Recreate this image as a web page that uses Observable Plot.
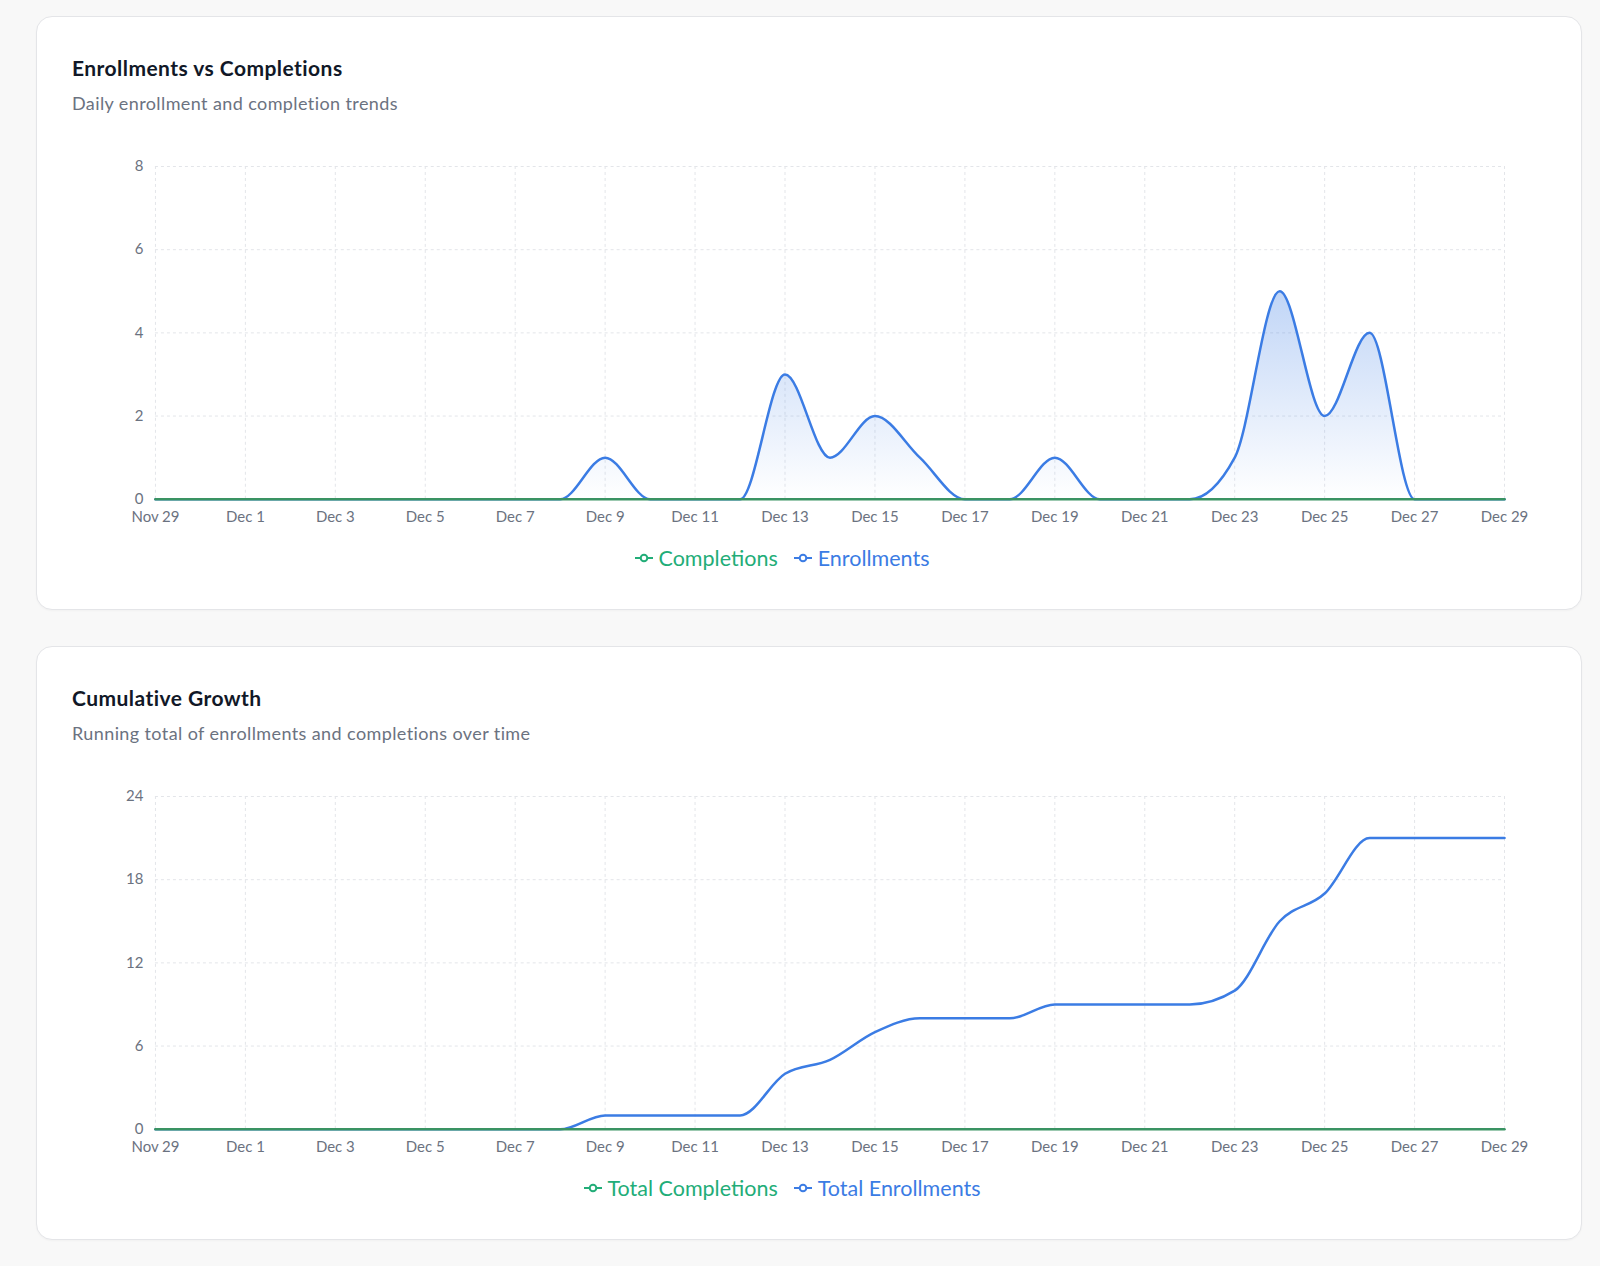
<!DOCTYPE html>
<html>
<head>
<meta charset="utf-8">
<script src="https://cdn.jsdelivr.net/npm/d3@7"></script>
<script src="https://cdn.jsdelivr.net/npm/@observablehq/plot@0.6"></script>
<style>
  html, body { margin: 0; padding: 0; }
  body { background: #f8f8f8; font-family: Lato, "Noto Sans", sans-serif; width: 1600px; height: 1266px; position: relative; overflow: hidden; }
  .card { position: absolute; left: 36px; width: 1546px; height: 594px; box-sizing: border-box; background: #fff; border: 1px solid #e4e5e8; border-radius: 16px; box-shadow: 0 1px 2px rgba(0,0,0,0.03); }
  .title { position: absolute; left: 35px; top: 39px; font-size: 21px; letter-spacing: 0.45px; line-height: 24px; font-weight: 700; color: #111827; white-space: nowrap; }
  .sub { position: absolute; left: 35px; top: 75px; font-size: 18px; letter-spacing: 0.4px; line-height: 22px; color: #6b7280; white-space: nowrap; }
  .chart { position: absolute; left: -1px; top: 123px; }
  .legend { position: absolute; left: 0; top: 527px; width: 1490px; height: 28px; display: flex; justify-content: center; align-items: center; gap: 16px; font-size: 21.5px; }
  .item { display: flex; align-items: center; gap: 6px; }
  .item svg { display: block; }
</style>
</head>
<body>
<div class="card" id="card1" style="top:16px">
  <div class="title">Enrollments vs Completions</div>
  <div class="sub">Daily enrollment and completion trends</div>
  <div class="chart" id="chart1"></div>
  <div class="legend" id="legend1"></div>
</div>
<div class="card" id="card2" style="top:646px">
  <div class="title">Cumulative Growth</div>
  <div class="sub">Running total of enrollments and completions over time</div>
  <div class="chart" id="chart2"></div>
  <div class="legend" id="legend2"></div>
</div>
<script>
// ---- data (Nov 29 .. Dec 29, one value per day) ----
const startDay = "2024-11-29";
const endDay = "2024-12-29";
const enrollments      = [0,0,0,0,0,0,0,0,0,0,1,0,0,0,3,1,2,1,0,0,1,0,0,0,1,5,2,4,0,0,0];
const completions      = [0,0,0,0,0,0,0,0,0,0,0,0,0,0,0,0,0,0,0,0,0,0,0,0,0,0,0,0,0,0,0];
const totalEnrollments = [0,0,0,0,0,0,0,0,0,0,1,1,1,1,4,5,7,8,8,8,9,9,9,9,10,15,17,21,21,21,21];
const totalCompletions = [0,0,0,0,0,0,0,0,0,0,0,0,0,0,0,0,0,0,0,0,0,0,0,0,0,0,0,0,0,0,0];
const dailyYTicks = [0, 2, 4, 6, 8];
const cumulativeYTicks = [0, 6, 12, 18, 24];
const seriesNames1 = ["Completions", "Enrollments"];
const seriesNames2 = ["Total Completions", "Total Enrollments"];

const BLUE = "#3b7ce4";
const GREEN = "#22ad78";
const GREEN_LINE = "#3a9363";

const dates = d3.utcDay.range(new Date(startDay), d3.utcDay.offset(new Date(endDay), 1));
const xTicks = d3.utcDay.range(new Date(startDay), d3.utcDay.offset(new Date(endDay), 1), 2);
const fmt = d3.utcFormat("%b %-d");

function makeChart(blueVals, greenVals, yTicks, withArea) {
  const rows = dates.map((d, i) => ({date: d, blue: blueVals[i], green: greenVals[i]}));
  const marks = [];
  if (withArea) {
    marks.push(() => {
      const defs = d3.create("svg:defs");
      const g = defs.append("linearGradient").attr("id", "enrollGrad").attr("x1", 0).attr("y1", 0).attr("x2", 0).attr("y2", 1);
      g.append("stop").attr("offset", "0%").attr("stop-color", BLUE).attr("stop-opacity", 0.32);
      g.append("stop").attr("offset", "100%").attr("stop-color", BLUE).attr("stop-opacity", 0.0);
      return defs.node();
    });
  }
  marks.push(Plot.gridY(yTicks, {stroke: "#e3e5e9", strokeOpacity: 1, strokeDasharray: "3,3", strokeWidth: 1}));
  marks.push(Plot.gridX(xTicks, {stroke: "#e3e5e9", strokeOpacity: 1, strokeDasharray: "3,3", strokeWidth: 1}));
  if (withArea) {
    marks.push(Plot.areaY(rows, {x: "date", y: "blue", curve: "monotone-x", fill: "url(#enrollGrad)"}));
  }
  marks.push(Plot.lineY(rows, {x: "date", y: "blue", curve: "monotone-x", stroke: BLUE, strokeWidth: 2.5}));
  marks.push(Plot.lineY(rows, {x: "date", y: "green", curve: "monotone-x", stroke: GREEN_LINE, strokeWidth: 2.5}));
  marks.push(Plot.axisX(xTicks, {tickSize: 0, tickPadding: 12, tickFormat: fmt, fontSize: 15, color: "#6b7280"}));
  marks.push(Plot.axisY(yTicks, {tickSize: 0, tickPadding: 12, fontSize: 15, color: "#6b7280"}));
  return Plot.plot({
    width: 1546, height: 389,
    marginLeft: 119, marginRight: 77, marginTop: 26, marginBottom: 30,
    x: {type: "utc", domain: [dates[0], dates[dates.length - 1]], label: null},
    y: {domain: [0, yTicks[yTicks.length - 1]], label: null},
    style: {fontFamily: "Lato, 'Noto Sans', sans-serif", background: "transparent", overflow: "visible"},
    marks
  });
}

function makeLegend(el, names) {
  const colors = [GREEN, BLUE];
  names.forEach((n, i) => {
    const item = document.createElement("div");
    item.className = "item";
    item.innerHTML = `<svg width="18" height="10" viewBox="0 0 18 10"><line x1="0" y1="5" x2="18" y2="5" stroke="${colors[i]}" stroke-width="2"/><circle cx="9" cy="5" r="3.3" fill="#fff" stroke="${colors[i]}" stroke-width="2"/></svg><span style="color:${colors[i]}">${n}</span>`;
    el.appendChild(item);
  });
}

document.getElementById("chart1").appendChild(makeChart(enrollments, completions, dailyYTicks, true));
document.getElementById("chart2").appendChild(makeChart(totalEnrollments, totalCompletions, cumulativeYTicks, false));
makeLegend(document.getElementById("legend1"), seriesNames1);
makeLegend(document.getElementById("legend2"), seriesNames2);
</script>
</body>
</html>
